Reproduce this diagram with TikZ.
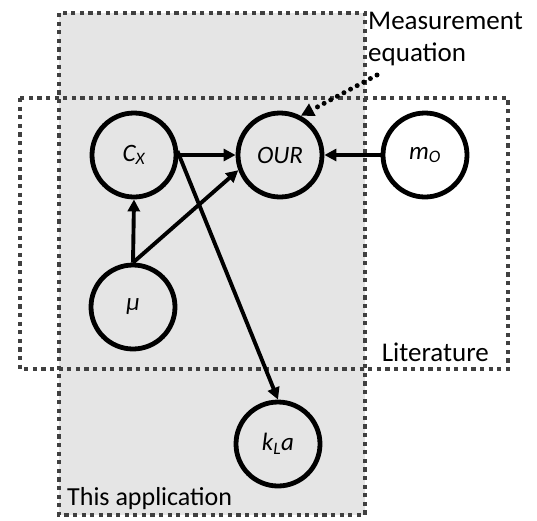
\documentclass[tikz,border=0pt]{standalone}
\usepackage{fontspec}
\setmainfont{Carlito}
\usetikzlibrary{arrows.meta}
\begin{document}
\begin{tikzpicture}[x=1pt,y=-1pt,
  var/.style={circle,draw=black,line width=4.8pt,minimum size=84pt,inner sep=0pt,font=\fontsize{25}{28}\selectfont\itshape},
  region/.style={draw=black!75,line width=4.2pt,dash pattern=on 4.2pt off 4.4pt},
  edge/.style={line width=3.9pt,-{Triangle[length=12pt,width=12pt]}},
  lbl/.style={font=\fontsize{27}{32}\selectfont,inner sep=0pt}]
\useasboundingbox (0,0) rectangle (537,520);
\fill[black!10] (59,13) rectangle (365,515);
\draw[region] (20,98) rectangle (508,369);
\draw[region] (59,13) rectangle (365,515);
\node[var] (cx) at (134,155) {C\textsubscript{X}};
\node[var] (our) at (280,155) {OUR};
\node[var] (mo) at (425,155) {m\textsubscript{O}};
\node[var] (mu) at (133,307) {μ};
\node[var] (kla) at (278,444) {k\textsubscript{L}a};
\node[lbl,anchor=north west,align=left] (meas) at (368,12) {Measurement\\equation};
\node[lbl,anchor=south east] (lit) at (489,362) {Literature};
\node[lbl,anchor=south west,font=\fontsize{26}{30}\selectfont] (app) at (67,510) {This application};
\coordinate (mstart) at (377,75);
\draw[edge] (cx.east) -- (our.west);
\draw[edge] (mo.west) -- (our.east);
\draw[edge] (mu.north) -- (cx.south);
\draw[edge] (mu.north) -- (our.200);
\draw[edge] ([xshift=-1pt,yshift=4pt]cx.east) -- (kla.north);
\draw[line width=5pt,dash pattern=on 0pt off 7.5pt,line cap=round,-{Triangle[length=13pt,width=13pt,line cap=butt]}] (mstart) -- (our.62);
\end{tikzpicture}
\end{document}
